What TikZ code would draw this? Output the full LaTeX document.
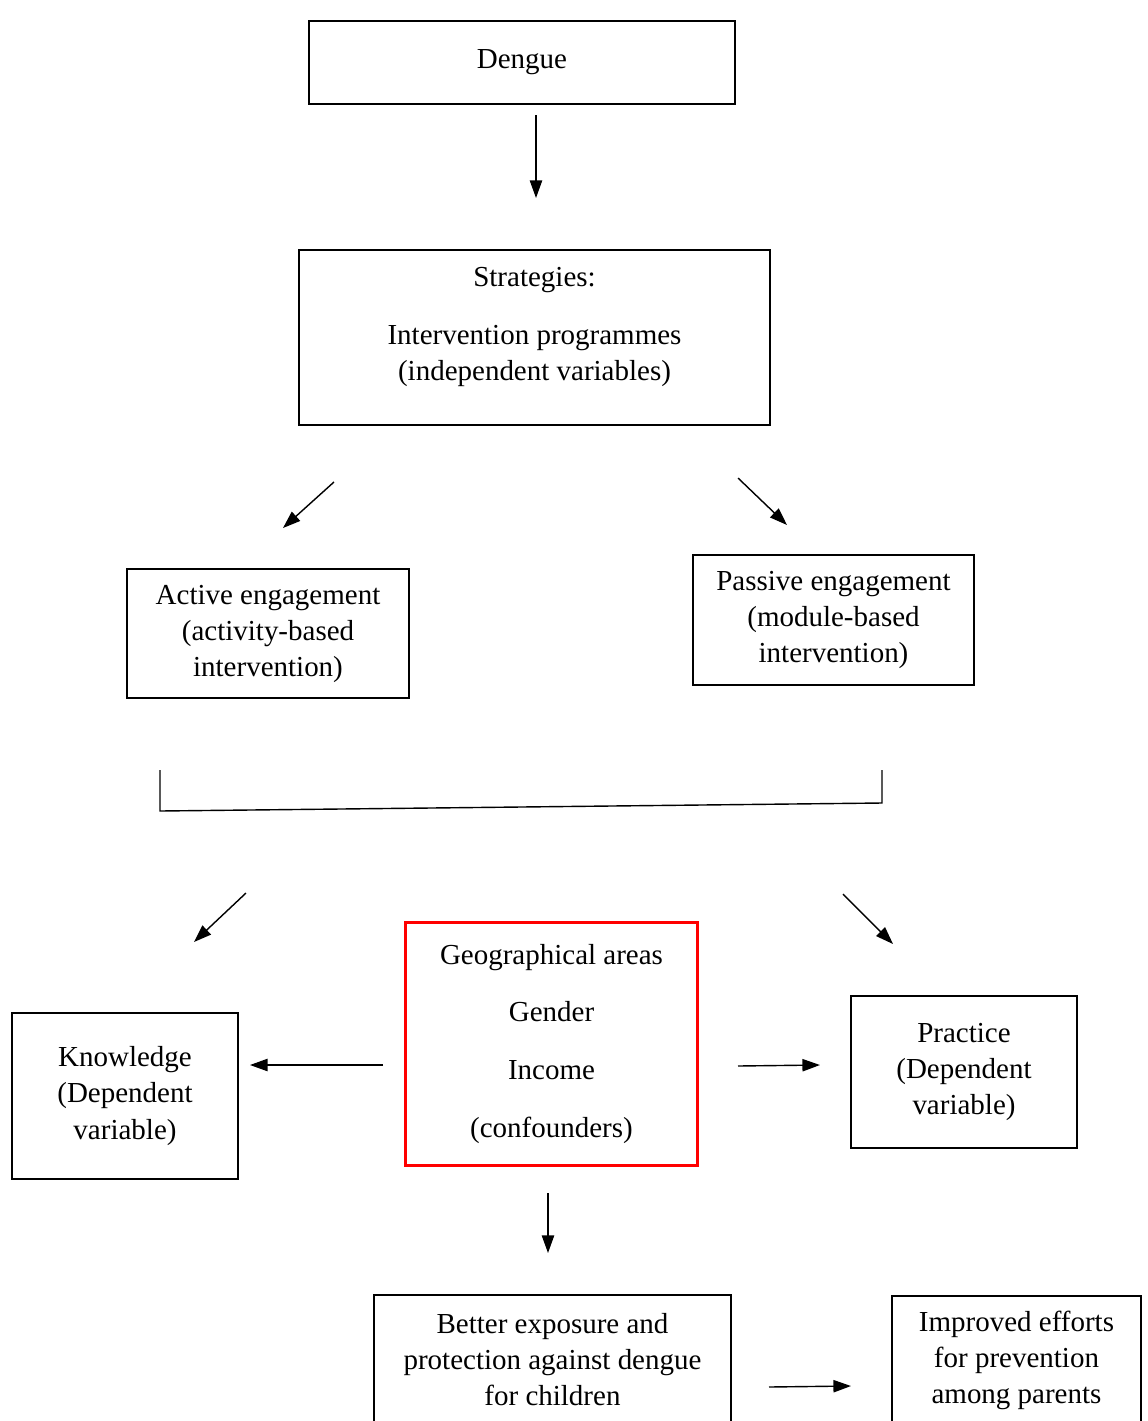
\documentclass[tikz,border=0pt]{standalone}
\usepackage{fontspec}
\setmainfont{Liberation Serif}
\usetikzlibrary{arrows.meta}
\definecolor{conf}{RGB}{255,0,0}

\begin{document}
\begin{tikzpicture}[x=0.02cm,y=-0.02cm,>={Triangle[length=10pt,width=7pt]},
  every node/.style={font=\fontsize{16.5}{20.5}\selectfont,align=center,inner sep=0pt},
  box/.style={draw,line width=1.2pt},
  link/.style={->,line width=0.8pt}]
\useasboundingbox (0,0) rectangle (1148,1421);
% boxes
\node[box,minimum width=8.52cm,minimum height=1.66cm] (dengue) at (522,62.5) {Dengue};
\node[box,minimum width=9.42cm,minimum height=3.5cm] (strat) at (534.5,337.5) {};
\node (strattext) at (534.5,327) {Strategies:\\[12.5pt]Intervention programmes\\(independent variables)};
\node[box,minimum width=5.64cm,minimum height=2.58cm] (active) at (268,633.5) {Active engagement\\(activity-based\\intervention)};
\node[box,minimum width=5.62cm,minimum height=2.6cm] (passive) at (833.5,620) {Passive engagement\\(module-based\\intervention)};
\node[draw=conf,line width=1.7pt,minimum width=5.86cm,minimum height=4.88cm] (conf) at (551.5,1044) {Geographical areas\\[12.5pt]Gender\\[12.5pt]Income\\[12.5pt](confounders)};
\node[box,minimum width=4.52cm,minimum height=3.32cm] (know) at (125,1096) {Knowledge\\(Dependent\\variable)};
\node[box,minimum width=4.52cm,minimum height=3.04cm] (prac) at (964,1072) {Practice\\(Dependent\\variable)};
\node[box,minimum width=7.14cm,minimum height=2.58cm] (better) at (552.5,1359.5) {Better exposure and\\protection against dengue\\for children};
\node[box,minimum width=4.98cm,minimum height=2.56cm] (improved) at (1016.5,1360) {Improved efforts\\for prevention\\among parents};
% arrow ends
\coordinate (d1) at (536,115);  \coordinate (d2) at (536,198);
\coordinate (s1) at (334,482);  \coordinate (s2) at (283,528);
\coordinate (s3) at (738,478);  \coordinate (s4) at (787,525);
\coordinate (bl) at (160,770);  \coordinate (blc) at (160,811);
\coordinate (brc) at (882,803); \coordinate (br) at (882,770);
\coordinate (k1) at (246,893);  \coordinate (k2) at (194,942);
\coordinate (p1) at (843,894);  \coordinate (p2) at (893,944);
\coordinate (c1) at (383,1065); \coordinate (c2) at (250,1065);
\coordinate (c3) at (738,1066); \coordinate (c4) at (820,1065);
\coordinate (c5) at (548,1193); \coordinate (c6) at (548,1253);
\coordinate (b1) at (769,1387); \coordinate (b2) at (851,1386);
% connectors
\draw[link] (d1) -- (d2);
\draw[link] (s1) -- (s2);
\draw[link] (s3) -- (s4);
\draw[line width=0.8pt] (bl) -- (blc) -- (brc) -- (br);
\draw[link] (k1) -- (k2);
\draw[link] (p1) -- (p2);
\draw[link] (c1) -- (c2);
\draw[link] (c3) -- (c4);
\draw[link] (c5) -- (c6);
\draw[link] (b1) -- (b2);
\end{tikzpicture}
\end{document}
